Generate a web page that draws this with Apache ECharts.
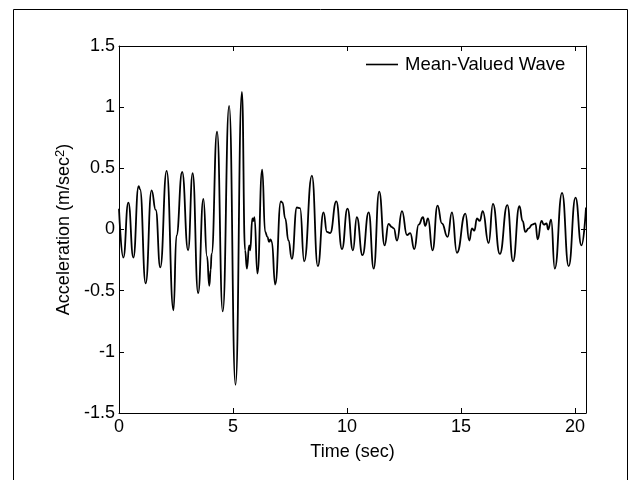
<!DOCTYPE html>
<html style="height: 100%">
    <head>
        <meta charset="utf-8">
    </head>
    <body style="height: 100%; margin: 0; background: #fff">
        <div id="container" style="width: 633px; height: 480px"></div>

        <script type="text/javascript" src="https://cdn.jsdelivr.net/npm/echarts@6/dist/echarts.min.js"></script>

        <script type="text/javascript">
// time (sec) and acceleration (m/sec^2)
var times = [
    0.00, 0.19, 0.41, 0.63, 0.86, 0.92, 1.17, 1.43, 1.61, 1.81,
    2.09, 2.39, 2.52, 2.77, 3.03, 3.23, 3.47, 3.70, 3.86, 3.96,
    4.02, 4.06, 4.30, 4.55, 4.83, 5.11, 5.39, 5.53, 5.61, 5.71,
    5.75, 5.85, 5.90, 5.94, 6.07, 6.28, 6.41, 6.51, 6.58, 6.64,
    6.70, 6.85, 7.10, 7.17, 7.29, 7.43, 7.58, 7.80, 7.94, 8.12,
    8.46, 8.72, 8.97, 9.12, 9.26, 9.53, 9.78, 10.02, 10.26, 10.43,
    10.68, 10.95, 11.17, 11.41, 11.65, 11.82, 11.97, 12.05, 12.19, 12.41,
    12.63, 12.77, 12.95, 13.14, 13.33, 13.43, 13.55, 13.75, 13.97, 14.16,
    14.41, 14.60, 14.82, 15.19, 15.36, 15.48, 15.58, 15.70, 15.82, 15.95,
    16.21, 16.40, 16.70, 17.03, 17.28, 17.56, 17.70, 17.82, 17.97, 18.12,
    18.26, 18.36, 18.53, 18.63, 18.75, 18.82, 18.95, 19.11, 19.43, 19.72,
    20.02, 20.28, 20.48
];
var accel = [
    0.17, -0.23, 0.22, -0.23, 0.355, 0.33, -0.44, 0.32, 0.16, -0.31,
    0.48, -0.66, -0.05, 0.47, -0.17, 0.46, -0.52, 0.25, -0.22, -0.46,
    -0.33, -0.20, 0.80, -0.67, 1.01, -1.27, 1.125, -0.17, -0.32, -0.13,
    -0.17, 0.09, 0.07, 0.10, -0.36, 0.49, -0.02, -0.06, -0.10, -0.08,
    -0.10, -0.45, 0.23, 0.22, 0.09, -0.09, -0.24, 0.18, 0.175, -0.26,
    0.44, -0.30, 0.14, -0.02, -0.03, 0.23, -0.16, 0.17, -0.17, 0.10,
    -0.21, 0.14, -0.32, 0.31, -0.13, 0.045, 0.02, 0.01, -0.09, 0.15,
    -0.045, -0.03, -0.16, 0.04, 0.10, 0.03, 0.09, -0.17, 0.195, 0.05,
    -0.06, 0.14, -0.19, 0.13, -0.09, 0.01, -0.01, 0.09, 0.07, 0.15,
    -0.11, 0.21, -0.20, 0.20, -0.26, 0.19, 0.07, -0.02, 0.01, 0.04,
    0.05, -0.08, 0.07, 0.04, 0.05, 0.00, 0.08, -0.32, 0.30, -0.30,
    0.26, -0.13, 0.18
];

var seriesName = 'Mean-Valued Wave';
var xTitle = 'Time (sec)';
var yTitle = 'Acceleration (m/sec{sup|2})';

var font = 'Liberation Sans';
var fs = 18;

var pairs = [];
for (var i = 0; i < times.length; i++) {
    pairs.push([times[i], accel[i]]);
}

var dom = document.getElementById("container");
var myChart = echarts.init(dom, null, {renderer: 'canvas'});

var tickStyle = {show: true, inside: true, length: 5, lineStyle: {color: '#000', width: 1}};
var lineAxis = {show: true, onZero: false, lineStyle: {color: '#000', width: 1}};

var option = {
    backgroundColor: '#fff',
    animation: false,
    textStyle: {fontFamily: font},
    grid: {left: 119, top: 46, width: 467, height: 367, containLabel: false},
    legend: {
        left: 361,
        top: 50,
        icon: 'rect',
        itemWidth: 32,
        itemHeight: 1.6,
        itemGap: 0,
        itemStyle: {color: '#000'},
        textStyle: {fontFamily: font, fontSize: 18.5, color: '#000', padding: [0, 0, 0, 2]},
        data: [seriesName]
    },
    graphic: [{
        type: 'rect',
        shape: {x: 13.5, y: 9.5, width: 614, height: 490},
        style: {fill: 'none', stroke: '#000', lineWidth: 1},
        silent: true
    }],
    xAxis: [{
        type: 'value',
        position: 'bottom',
        min: 0,
        max: 20.48,
        interval: 5,
        name: xTitle,
        nameLocation: 'middle',
        nameGap: 30,
        nameTextStyle: {fontFamily: font, fontSize: fs, color: '#000'},
        axisLine: lineAxis,
        axisTick: tickStyle,
        splitLine: {show: false},
        axisLabel: {fontFamily: font, fontSize: fs, color: '#000', margin: 5, showMaxLabel: false}
    }, {
        type: 'value',
        position: 'top',
        min: 0,
        max: 20.48,
        interval: 5,
        axisLine: lineAxis,
        axisTick: tickStyle,
        splitLine: {show: false},
        axisLabel: {show: false}
    }],
    yAxis: [{
        type: 'value',
        position: 'left',
        min: -1.5,
        max: 1.5,
        interval: 0.5,
        name: yTitle,
        nameLocation: 'middle',
        nameGap: 37,
        nameTextStyle: {
            fontFamily: font, fontSize: fs, color: '#000',
            rich: {sup: {fontFamily: font, fontSize: 13, verticalAlign: 'top', padding: [0, 0, 8, 0]}}
        },
        axisLine: lineAxis,
        axisTick: tickStyle,
        splitLine: {show: false},
        axisLabel: {fontFamily: font, fontSize: fs, color: '#000', margin: 4}
    }, {
        type: 'value',
        position: 'right',
        min: -1.5,
        max: 1.5,
        interval: 0.5,
        axisLine: lineAxis,
        axisTick: tickStyle,
        splitLine: {show: false},
        axisLabel: {show: false}
    }],
    series: [{
        name: seriesName,
        type: 'line',
        xAxisIndex: 0,
        yAxisIndex: 0,
        data: pairs,
        symbol: 'none',
        smooth: 0.5,
        smoothMonotone: 'x',
        lineStyle: {color: '#000', width: 1.8},
        itemStyle: {color: '#000'}
    }]
};

myChart.setOption(option);
        </script>
    </body>
</html>
